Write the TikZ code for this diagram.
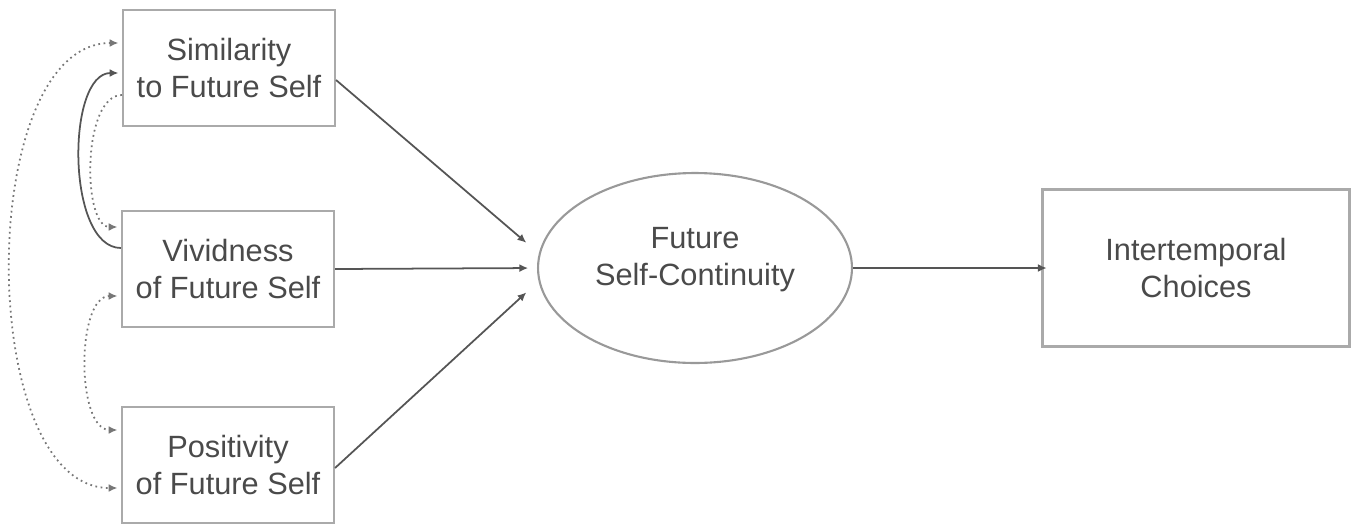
\documentclass[tikz,border=0pt]{standalone}
\usepackage{fontspec}
\setmainfont{Liberation Sans}
\usetikzlibrary{shapes.geometric,arrows.meta,calc}
\definecolor{txt}{HTML}{4A4A4A}
\definecolor{ln}{HTML}{555555}
\definecolor{bx}{HTML}{AAAAAA}
\begin{document}
\begin{tikzpicture}[x=0.02cm,y=-0.02cm,
  lbl/.style={font=\fontsize{17.5pt}{21pt}\selectfont,text=txt,align=center},
  boxnode/.style={lbl,draw=bx,line width=1.2pt,minimum width=4.24cm,minimum height=2.32cm,inner sep=0pt},
  ellnode/.style={lbl,ellipse,draw=bx!90!black,line width=1.2pt,minimum width=6.28cm,minimum height=3.8cm,inner sep=0pt},
  arr/.style={draw=ln,line width=1pt,-{Latex[length=5pt,width=4.5pt]}},
  dotarr/.style={draw=ln!80,line width=1pt,dotted}
]
\useasboundingbox (0,0) rectangle (1355,525);
\node[boxnode] (sim) at (229,68) {Similarity\\to Future Self};
\node[boxnode] (viv) at (228,269) {Vividness\\of Future Self};
\node[boxnode] (pos) at (228,465) {Positivity\\of Future Self};
\node[ellnode] (fsc) at (695,268) {Future\\Self-Continuity\\[-8pt]\mbox{}};
\node[boxnode,minimum width=6.14cm,minimum height=3.14cm] (ic) at (1196,268) {Intertemporal\\Choices};

% straight arrows
\draw[arr,shorten >=2pt] ($(sim.east)+(0,12)$) -- ($(fsc.west)+(-8,-23)$);
\draw[arr,shorten >=5pt] (viv.east) -- (fsc.west);
\draw[arr,shorten >=2pt] ($(pos.east)+(0,3)$) -- ($(fsc.west)+(-8,22)$);
\draw[arr,shorten >=-3pt] (fsc.east) -- (ic.west);

% curved covariances
\draw[dotarr,{Latex[length=5pt,width=4.5pt]}-{Latex[length=5pt,width=4.5pt]},shorten <=2pt,shorten >=2pt]
  ($(sim.west)+(0,-25)$) .. controls (-25,43) and (-25,488) .. ($(pos.west)+(0,23)$);
\draw[draw=ln,line width=1pt,-{Latex[length=5pt,width=4.5pt]},shorten >=2pt]
  ($(viv.west)+(0,-21)$) .. controls (66,248) and (66,73) .. ($(sim.west)+(0,5)$);
\draw[dotarr,-{Latex[length=5pt,width=4.5pt]},shorten >=2pt]
  ($(sim.west)+(0,27)$) .. controls (82,95) and (82,227) .. ($(viv.west)+(0,-42)$);
\draw[dotarr,{Latex[length=5pt,width=4.5pt]}-{Latex[length=5pt,width=4.5pt]},shorten <=2pt,shorten >=2pt]
  ($(viv.west)+(0,27)$) .. controls (76,296) and (76,430) .. ($(pos.west)+(0,-35)$);
\end{tikzpicture}
\end{document}
